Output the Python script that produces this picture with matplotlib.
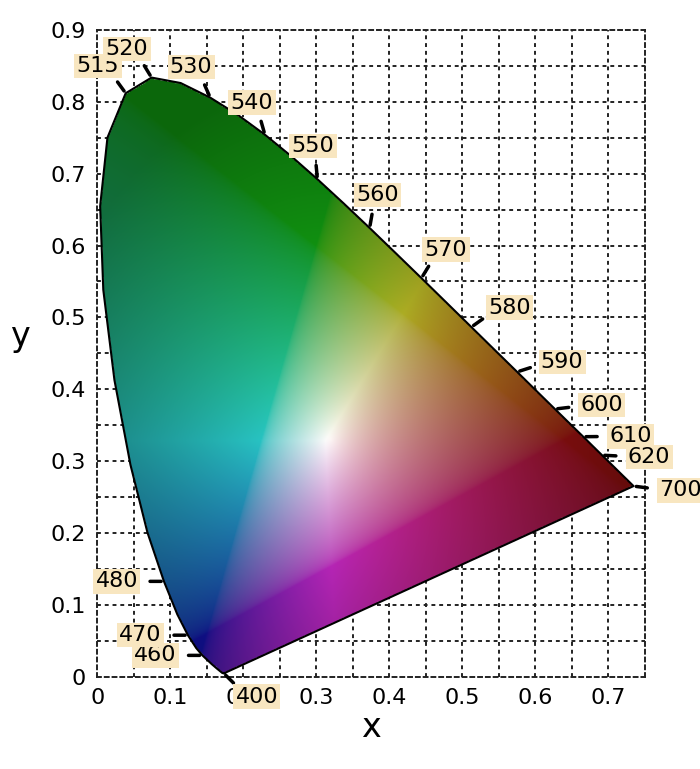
import numpy as np
import matplotlib
matplotlib.use("Agg")
import matplotlib.pyplot as plt
from matplotlib.path import Path

# CIE 1931 spectral locus (wavelength nm, x, y)
wl = [380, 400, 420, 440, 450, 460, 465, 470, 475, 480, 485, 490, 495, 500, 505, 510,
      515, 520, 525, 530, 535, 540, 545, 550, 555, 560, 565, 570, 575, 580, 585, 590,
      595, 600, 605, 610, 620, 630, 640, 650, 700]
lx = [.1741, .1733, .1714, .1644, .1566, .1440, .1355, .1241, .1096, .0913, .0687, .0454,
      .0235, .0082, .0039, .0139, .0389, .0743, .1142, .1547, .1929, .2296, .2658, .3016,
      .3373, .3731, .4087, .4441, .4788, .5125, .5448, .5752, .6029, .6270, .6482, .6658,
      .6915, .7079, .7190, .7260, .7347]
ly = [.0050, .0048, .0051, .0109, .0177, .0297, .0399, .0578, .0868, .1327, .2007, .2950,
      .4127, .5384, .6548, .7502, .8120, .8338, .8262, .8059, .7816, .7543, .7243, .6923,
      .6589, .6245, .5896, .5547, .5202, .4866, .4544, .4242, .3965, .3725, .3514, .3340,
      .3083, .2920, .2809, .2740, .2653]
labelled = [400, 460, 470, 480, 515, 520, 530, 540, 550, 560, 570, 580, 590, 600, 610, 620, 700]
xticks = [0, 0.1, 0.2, 0.3, 0.4, 0.5, 0.6, 0.7]
yticks = [0, 0.1, 0.2, 0.3, 0.4, 0.5, 0.6, 0.7, 0.8, 0.9]

fig = plt.figure(figsize=(7, 7.69), dpi=100)
ax = fig.add_axes([0.139, 0.12, 0.782, 0.841])
ax.set_xlim(0, 0.75)
ax.set_ylim(0, 0.9)

# colour fill
n = 500
gx, gy = np.meshgrid(np.linspace(0, 0.75, n), np.linspace(0, 0.9, n))
gyc = np.clip(gy, 1e-3, None)
X = gx / gyc; Y = np.ones_like(gx); Z = (1 - gx - gy) / gyc
r = 3.2406*X - 1.5372*Y - 0.4986*Z
g = -0.9689*X + 1.8758*Y + 0.0415*Z
b = 0.0557*X - 0.2040*Y + 1.0570*Z
rgb = np.stack([r, g, b], -1)
rgb = np.clip(rgb, 0, None)
rgb = rgb / rgb.max(-1, keepdims=True).clip(1e-6)
rgb = np.where(rgb <= 0.0031308, 12.92*rgb, 1.055*np.power(rgb, 1/2.4) - 0.055)
# muted, darker toward the locus
dist = np.hypot((gx - 0.32) / 0.4, (gy - 0.33) / 0.5).clip(0, 1)
gray = rgb.mean(-1, keepdims=True)
rgb = rgb*0.72 + gray*0.28
bright = (1 - 0.5*dist**0.8)[..., None]
rgb = np.clip(rgb*bright, 0, 1)
poly = np.column_stack([lx + [lx[0]], ly + [ly[0]]])
inside = Path(poly).contains_points(np.column_stack([gx.ravel(), gy.ravel()])).reshape(gx.shape)
rgba = np.concatenate([rgb, inside[..., None].astype(float)], -1)

for v in np.arange(0.05, 0.75, 0.05):
    ax.axvline(v, color='#222', ls=(0, (2, 2)), lw=1.4, zorder=0)
for v in np.arange(0.05, 0.9, 0.05):
    ax.axhline(v, color='#222', ls=(0, (2, 2)), lw=1.4, zorder=0)
for s in ax.spines.values():
    s.set_linestyle((0, (2, 2))); s.set_linewidth(1.4); s.set_color('#222')

ax.imshow(rgba, origin='lower', extent=[0, 0.75, 0, 0.9], aspect='auto', zorder=2,
          interpolation='bilinear')
ax.plot(lx + [lx[0]], ly + [ly[0]], color='black', lw=1.5, zorder=3)

wx, wy = 0.33, 0.33
for w in labelled:
    i = wl.index(w)
    px, py = lx[i], ly[i]
    d = np.array([(px - wx) / 0.75, (py - wy) / 0.9])
    d = d / np.linalg.norm(d)
    if w in (460, 470, 480):
        d = np.array([-1.0, 0.0])
    if w == 400:
        d = np.array([0.7, -0.7])
    ax.annotate('', xy=(px, py), xytext=(d[0]*12, d[1]*12), textcoords='offset points',
                arrowprops=dict(arrowstyle='-', lw=2.5, color='black'), zorder=4)
    ax.annotate(str(w), xy=(px, py), xytext=(d[0]*34, d[1]*24), textcoords='offset points',
                ha='center', va='center', fontsize=16, zorder=5,
                bbox=dict(boxstyle='square,pad=0.1', fc='#f8e6c0', ec='none'))

ax.set_xticks(xticks)
ax.set_xticklabels([f"{t:g}" for t in xticks], fontsize=16)
ax.set_yticks(yticks)
ax.set_yticklabels([f"{t:g}" for t in yticks], fontsize=16)
ax.tick_params(length=0, pad=8)
ax.set_xlabel('x', fontsize=24, labelpad=2)
ax.set_ylabel('y', fontsize=24, rotation=0, labelpad=22)
fig.savefig('out.png')
